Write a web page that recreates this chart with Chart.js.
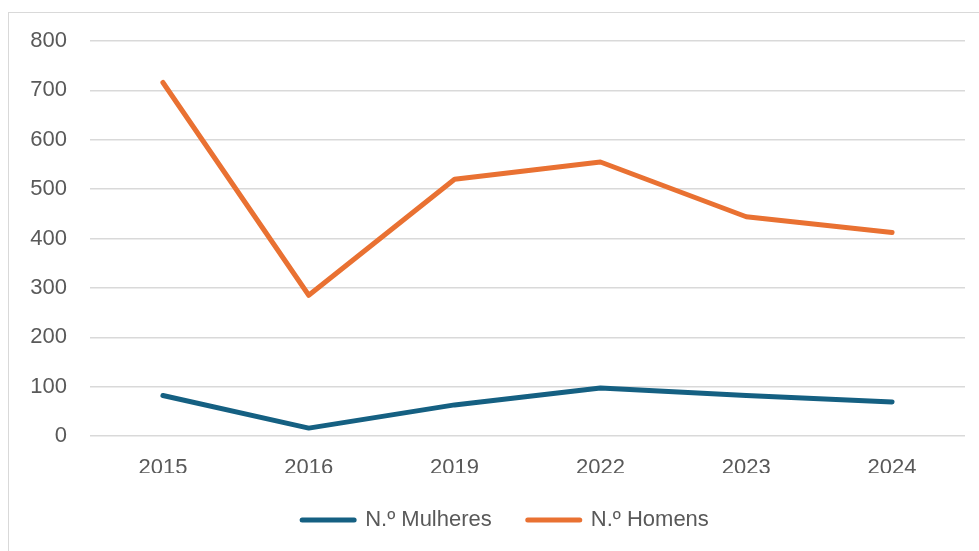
<!DOCTYPE html>
<html>
<head>
<meta charset="utf-8">
<script src="https://cdn.jsdelivr.net/npm/chart.js"></script>
<style>
  html, body { margin: 0; padding: 0; background: #fff; overflow: hidden; }
  #frame { position: absolute; left: 8px; top: 12px; width: 1100px; height: 700px; border: 1.5px solid #d9d9d9; }
  #wrap { position: absolute; left: 0; top: 0; width: 979px; height: 551px; }
</style>
</head>
<body>
<div id="frame"></div>
<div id="wrap"><canvas id="myChart"></canvas></div>
<script>
// dados do gráfico
const anos = ['2015', '2016', '2019', '2022', '2023', '2024'];
const mulheres = [82, 16, 63, 97, 82, 69];
const homens = [716, 285, 520, 555, 444, 412];

const corMulheres = '#156082';
const corHomens = '#e97132';
const fonte = { family: '"Liberation Sans", Arial, sans-serif', size: 22 };

// desloca a legenda um pouco para a direita (centrada na área do gráfico)
const moverLegenda = {
  id: 'moverLegenda',
  afterLayout(chart) {
    const lg = chart.legend;
    if (lg) { lg.left += 23; lg.right += 23; }
  }
};

const ctx = document.getElementById('myChart').getContext('2d');

new Chart(ctx, {
  type: 'line',
  data: {
    labels: anos,
    datasets: [
      {
        label: 'N.º Mulheres',
        data: mulheres,
        borderColor: corMulheres,
        backgroundColor: corMulheres,
        borderWidth: 5,
        borderCapStyle: 'round',
        borderJoinStyle: 'round',
        pointRadius: 0,
        tension: 0
      },
      {
        label: 'N.º Homens',
        data: homens,
        borderColor: corHomens,
        backgroundColor: corHomens,
        borderWidth: 5,
        borderCapStyle: 'round',
        borderJoinStyle: 'round',
        pointRadius: 0,
        tension: 0
      }
    ]
  },
  options: {
    responsive: true,
    maintainAspectRatio: false,
    animation: false,
    layout: { padding: { left: 0, right: 14, top: 41, bottom: 10 } },
    plugins: {
      tooltip: { enabled: false },
      legend: {
        position: 'bottom',
        labels: {
          font: fonte,
          color: '#595959',
          usePointStyle: true,
          pointStyle: 'line',
          pointStyleWidth: 52,
          padding: 36,
          generateLabels: (chart) => chart.data.datasets.map((ds, i) => ({
            text: ds.label,
            fillStyle: ds.borderColor,
            strokeStyle: ds.borderColor,
            lineWidth: 5,
            lineCap: 'round',
            pointStyle: 'line',
            fontColor: '#595959',
            datasetIndex: i,
            hidden: false
          }))
        }
      }
    },
    scales: {
      x: {
        offset: true,
        grid: { display: false, drawTicks: false },
        border: { display: false },
        ticks: { font: fonte, color: '#595959', padding: 19, maxRotation: 0 },
        afterFit: (s) => { s.height = 37; }
      },
      y: {
        min: 0,
        max: 800,
        grid: { color: '#d9d9d9', lineWidth: 1.5, drawTicks: false },
        border: { display: false },
        ticks: { stepSize: 100, font: fonte, color: '#595959', padding: 23 },
        afterFit: (s) => { s.width = 90; }
      }
    }
  },
  plugins: [moverLegenda]
});
</script>
</body>
</html>
